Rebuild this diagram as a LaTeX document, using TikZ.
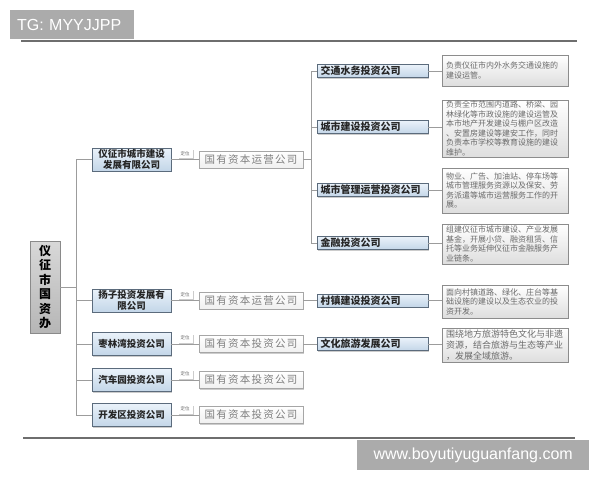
\documentclass[tikz,border=0pt]{standalone}
\usepackage{fontspec}
\usepackage{tikz}
\usetikzlibrary{positioning,shadows}
\setmainfont{Liberation Sans}
\newfontfamily\cjk{Noto Sans CJK SC}
\newfontfamily\cjkwide[LetterSpace=12]{Noto Sans CJK SC}
\definecolor{corpedge}{HTML}{5B6B7C}
\definecolor{corptop}{HTML}{EAF2FA}
\definecolor{corpbot}{HTML}{C3D6E8}
\definecolor{rootedge}{HTML}{8A8A8A}
\definecolor{roottop}{HTML}{D8D8D8}
\definecolor{rootbot}{HTML}{B6B6B6}
\definecolor{fundedge}{HTML}{A6A6A6}
\definecolor{fundtext}{HTML}{7F7F7F}
\definecolor{descedge}{HTML}{8C8C8C}
\definecolor{descbot}{HTML}{DEDEDE}
\definecolor{desctext}{HTML}{6A6A6A}
\definecolor{linegray}{HTML}{9C9C9C}
\definecolor{rulegray}{HTML}{6E6E6E}
\definecolor{markgray}{HTML}{ABABAB}

\begin{document}
\begin{tikzpicture}[x=1pt,y=-1pt]
\tikzstyle{every node}+=[inner sep=0pt]
\tikzstyle{link}=[draw=linegray, line width=0.9pt]
\tikzstyle{rulerline}=[draw=rulegray, line width=1.1pt]
\tikzstyle{greybar}=[fill=markgray, text=white, font=\fontsize{16}{18}\selectfont]
\tikzstyle{softshadow}=[drop shadow={shadow xshift=1.2pt, shadow yshift=-1.2pt, opacity=0.4}]
\tikzstyle{rootbox}=[draw=rootedge, top color=roottop, bottom color=rootbot, softshadow, minimum width=30pt, minimum height=92pt, align=center, font=\cjk\bfseries\fontsize{12}{14.4}\selectfont]
\tikzstyle{corp}=[draw=corpedge, top color=corptop, bottom color=corpbot, softshadow, text=black!85]
\tikzstyle{firm}=[corp, minimum width=79pt, minimum height=23pt, align=center, font=\cjk\bfseries\fontsize{9.5}{11}\selectfont]
\tikzstyle{subfirm}=[corp, minimum height=13pt, text width=104pt, inner xsep=3.5pt, align=left, font=\cjk\bfseries\fontsize{10}{12}\selectfont]
\tikzstyle{fund}=[draw=fundedge, top color=white, bottom color=black!6, softshadow, text=fundtext, minimum width=104pt, minimum height=17pt, font=\cjkwide\fontsize{10.5}{12}\selectfont]
\tikzstyle{desc}=[draw=descedge, top color=white, bottom color=descbot, softshadow, text=desctext, text width=118pt, inner xsep=4pt, align=left, font=\cjk\fontsize{8}{9.5}\selectfont]
\tikzstyle{tag}=[fill=white, softshadow, text=black!60, inner xsep=3pt, inner ysep=2.5pt, font=\cjk\fontsize{4.5}{5}\selectfont]
\useasboundingbox (0,0) rectangle (600,480);
\draw[rulerline] (21,41) -- (577,41);
\draw[rulerline] (23,438) -- (575,438);
\node[greybar, anchor=north west, text width=110pt, inner xsep=7pt, align=left, minimum height=29pt] (tg) at (10,10) {TG: MYYJJPP};
\node[greybar, anchor=north west, minimum width=232pt, minimum height=30pt] (wm) at (357,440) {www.boyutiyuguanfang.com};
\coordinate (k) at (76,287);
\coordinate (m) at (311,71);
\draw[link] (m) -- (m |- 0,243);
\node[rootbox] (gzb) at (45,287) {仪\\征\\市\\国\\资\\办};
\node[firm] (cj) at (131.5,159.5) {仪征市城市建设\\发展有限公司};
\node[firm] (yz) at (131.5,300.5) {扬子投资发展有\\限公司};
\node[firm] (zlw) at (131.5,344) {枣林湾投资公司};
\node[firm] (qcy) at (131.5,380) {汽车园投资公司};
\node[firm] (kfq) at (131.5,415) {开发区投资公司};
\node[fund] (yy1) at (251,159.5) {国有资本运营公司};
\node[fund] (yy2) at (251,300.5) {国有资本运营公司};
\node[fund] (tz1) at (251,344) {国有资本投资公司};
\node[fund] (tz2) at (251,380) {国有资本投资公司};
\node[fund] (tz3) at (251,415) {国有资本投资公司};
\node[subfirm] (jtsw) at (372.5,71) {交通水务投资公司};
\node[subfirm] (csjs) at (372.5,127) {城市建设投资公司};
\node[subfirm] (csgl) at (372.5,190) {城市管理运营投资公司};
\node[subfirm] (jr) at (372.5,243) {金融投资公司};
\node[subfirm] (czjs) at (372.5,300.5) {村镇建设投资公司};
\node[subfirm] (whly) at (372.5,344) {文化旅游发展公司};
\node[desc, minimum height=31pt] (jtswjs) at (505,70.5) {负责仪征市内外水务交通设施的\\建设运管。};
\node[desc, minimum height=57pt] (csjsjs) at (505,128.5) {负责全市范围内道路、桥梁、园\\林绿化等市政设施的建设运管及\\本市地产开发建设与棚户区改造\\、安置房建设等建安工作，同时\\负责本市学校等教育设施的建设\\维护。};
\node[desc, minimum height=45pt] (csgljs) at (505,190.5) {物业、广告、加油站、停车场等\\城市管理服务资源以及保安、劳\\务派遣等城市运营服务工作的开\\展。};
\node[desc, minimum height=40pt] (jrjs) at (505,244) {组建仪征市城市建设、产业发展\\基金，开展小贷、融资租赁、信\\托等业务延伸仪征市金融服务产\\业链条。};
\node[desc, minimum height=33pt] (czjsjs) at (505,301.5) {面向村镇道路、绿化、庄台等基\\础设施的建设以及生态农业的投\\资开发。};
\node[desc, minimum height=34pt, font=\cjk\fontsize{9}{11}\selectfont] (whlyjs) at (505,345) {围绕地方旅游特色文化与非遗\\资源，结合旅游与生态等产业\\，发展全域旅游。};
\draw[link] (gzb.east) -- (k);
\draw[link] (k |- cj.west) -- (k |- kfq.west);
\draw[link] (k |- cj.west) -- (cj.west);
\draw[link] (k |- yz.west) -- (yz.west);
\draw[link] (k |- zlw.west) -- (zlw.west);
\draw[link] (k |- qcy.west) -- (qcy.west);
\draw[link] (k |- kfq.west) -- (kfq.west);
\draw[link] (cj.east) -- node[tag, above=1pt] (dw1) {定位} (yy1.west);
\draw[link] (yz.east) -- node[tag, above=1pt] (dw2) {定位} (yy2.west);
\draw[link] (zlw.east) -- node[tag, above=1pt] (dw3) {定位} (tz1.west);
\draw[link] (qcy.east) -- node[tag, above=1pt] (dw4) {定位} (tz2.west);
\draw[link] (kfq.east) -- node[tag, above=1pt] (dw5) {定位} (tz3.west);
\draw[link] (yy1.east) -- (yy1.east -| m);
\draw[link] (m |- jtsw.west) -- (jtsw.west);
\draw[link] (m |- csjs.west) -- (csjs.west);
\draw[link] (m |- csgl.west) -- (csgl.west);
\draw[link] (m |- jr.west) -- (jr.west);
\draw[link] (yy2.east) -- (czjs.west);
\draw[link] (tz1.east) -- (whly.west);
\draw[link] (jtsw.east) -- (jtsw.east -| jtswjs.west);
\draw[link] (csjs.east) -- (csjs.east -| csjsjs.west);
\draw[link] (csgl.east) -- (csgl.east -| csgljs.west);
\draw[link] (jr.east) -- (jr.east -| jrjs.west);
\draw[link] (czjs.east) -- (czjs.east -| czjsjs.west);
\draw[link] (whly.east) -- (whly.east -| whlyjs.west);
\end{tikzpicture}
\end{document}
